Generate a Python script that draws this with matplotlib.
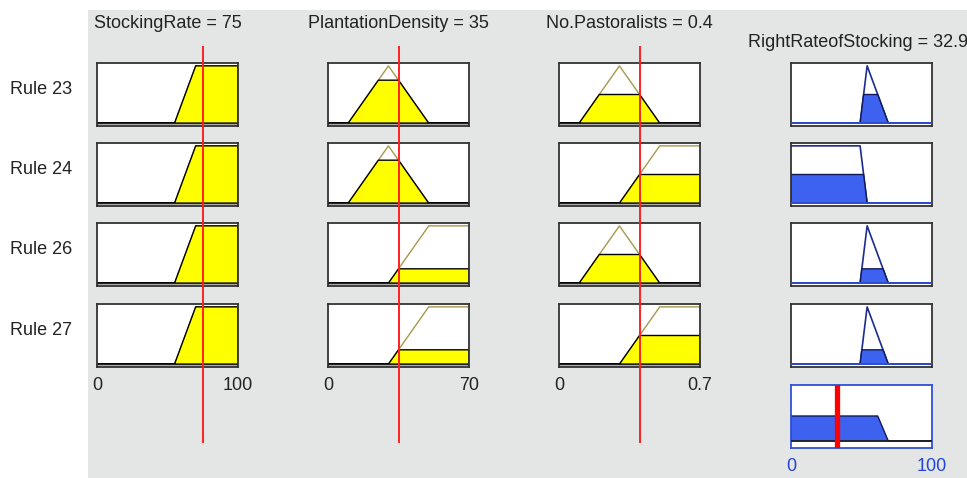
import numpy as np
import matplotlib
matplotlib.use('Agg')
import matplotlib.pyplot as plt
from matplotlib.patches import Rectangle

plt.rcParams['font.family'] = ['Liberation Sans', 'DejaVu Sans']

# fuzzy system: inputs, output and the fired rules
input_names = ['StockingRate', 'PlantationDensity', 'No.Pastoralists']
input_ranges = [(0, 100), (0, 70), (0, 0.7)]
input_values = [75, 35, 0.4]
input_tick_labels = [['0', '100'], ['0', '70'], ['0', '0.7']]

output_name = 'RightRateofStocking'
output_range = (0, 100)
output_value = 32.9
output_tick_labels = ['0', '100']

rule_labels = ['Rule 23', 'Rule 24', 'Rule 26', 'Rule 27']

# membership functions as trapezoids [a, b, c, d] (triangle when b == c)
stocking_mf = [[55, 70, 100, 100], [55, 70, 100, 100], [55, 70, 100, 100], [55, 70, 100, 100]]
density_mf = [[10, 30, 30, 50], [10, 30, 30, 50], [30, 50, 70, 70], [30, 50, 70, 70]]
pastoral_mf = [[0.1, 0.3, 0.3, 0.5], [0.3, 0.5, 0.7, 0.7], [0.1, 0.3, 0.3, 0.5], [0.3, 0.5, 0.7, 0.7]]
output_mf = [[49, 54, 54, 69], [0, 0, 49, 54], [49, 54, 54, 69], [49, 54, 54, 69]]

input_mfs = [stocking_mf, density_mf, pastoral_mf]


def trapmf(x, p):
    a, b, c, d = p
    with np.errstate(divide='ignore', invalid='ignore'):
        up = np.where(x >= b, 1.0, (x - a) / (b - a))
        down = np.where(x <= c, 1.0, (d - x) / (d - c))
    return np.clip(np.nan_to_num(np.minimum(up, down), nan=0.0, neginf=0.0), 0, 1)


W, H = 967, 478
fig = plt.figure(figsize=(W / 100, H / 100), dpi=100)
fig.patch.set_facecolor('white')

# grey panel behind the plots
fig.patches.append(Rectangle((88 / W, 0), 1 - 88 / W, 1 - 10 / H, transform=fig.transFigure,
                             facecolor='#e4e6e5', edgecolor='none', zorder=-5))

col_x = [97, 328, 559, 791]
row_top = [63, 143, 223, 304]
box_w, box_h = 141, 63
agg_top = 385

yellow = '#ffff00'
olive = '#a8984c'
navy = '#1c2c8c'
blue_fill = '#3d62f0'
blue_line = '#3050d8'
red = '#ff2020'
edge = '#333333'


def box(x, top, w=box_w, h=box_h):
    return fig.add_axes([x / W, 1 - (top + h) / H, w / W, h / H])


def style(ax, color=edge):
    ax.set_xticks([])
    ax.set_yticks([])
    for s in ax.spines.values():
        s.set_color(color)
        s.set_linewidth(1.3)


# firing strength of each rule (min of input memberships)
degrees = [[float(trapmf(np.array([input_values[j]]), input_mfs[j][i])[0]) for j in range(3)]
           for i in range(len(rule_labels))]
firing = [min(d) for d in degrees]

agg_x = np.linspace(output_range[0], output_range[1], 501)
aggregate = np.zeros_like(agg_x)

for i, label in enumerate(rule_labels):
    fig.text(10 / W, 1 - (row_top[i] + 31) / H, label, fontsize=13, va='baseline', color='#222222')

    # inputs
    for j in range(3):
        lo, hi = input_ranges[j]
        x = np.linspace(lo, hi, 501)
        mu = trapmf(x, input_mfs[j][i])
        clip = np.minimum(mu, degrees[i][j])
        ax = box(col_x[j], row_top[i])
        ax.set_facecolor('white')
        ax.plot(x, mu, color=olive, lw=1.0, zorder=1)
        ax.fill(np.r_[x, hi, lo], np.r_[clip, 0, 0], facecolor=yellow, edgecolor='black', lw=1.0, zorder=2)
        ax.axhspan(-0.05, 0, color='#cccccc', zorder=0)
        ax.axhline(0, color='#222222', lw=1.0, zorder=3)
        ax.set_xlim(lo, hi)
        ax.set_ylim(-0.05, 1.05)
        style(ax)
        if i == 0:
            ax.set_title('%s = %g' % (input_names[j], input_values[j]), fontsize=13,
                         color='#222222', pad=25)
        if i == len(rule_labels) - 1:
            ax.set_xticks([lo, hi])
            ax.set_xticklabels(input_tick_labels[j], fontsize=13, color='#222222')
            ax.tick_params(axis='x', length=0, pad=7)

    # output of the rule
    mu = trapmf(agg_x, output_mf[i])
    clip = np.minimum(mu, firing[i])
    aggregate = np.maximum(aggregate, clip)
    ax = box(col_x[3], row_top[i])
    ax.set_facecolor('white')
    ax.plot(agg_x, mu, color=navy, lw=1.2, zorder=1)
    ax.fill(np.r_[agg_x, output_range[1], output_range[0]], np.r_[clip, 0, 0],
            facecolor=blue_fill, edgecolor='#111a55', lw=1.0, zorder=2)
    ax.axhline(0, color=blue_line, lw=1.3, zorder=3)
    ax.set_xlim(*output_range)
    ax.set_ylim(-0.05, 1.05)
    style(ax)
    if i == 0:
        fig.text(748 / W, 1 - 47 / H, '%s = %g' % (output_name, output_value), fontsize=13,
                 color='#222222', va='baseline', ha='left')

# aggregated output with the defuzzified value
ax = box(col_x[3], agg_top)
ax.set_facecolor('white')
ax.fill(np.r_[agg_x, output_range[1], output_range[0]], np.r_[aggregate, 0, 0],
        facecolor=blue_fill, edgecolor='#111a55', lw=1.0, zorder=2)
ax.axhline(0, color='#222222', lw=1.2, zorder=3)
ax.axvline(output_value, color='#ff0000', lw=3.8, zorder=4)
ax.set_xlim(*output_range)
ax.set_ylim(-0.14, 1.12)
style(ax, blue_line)
ax.set_xticks(list(output_range))
ax.set_xticklabels(output_tick_labels, fontsize=13, color='#2244dd')
ax.tick_params(axis='x', length=0, pad=7)

# red lines marking the crisp input values
for j in range(3):
    lo, hi = input_ranges[j]
    ov = fig.add_axes([col_x[j] / W, 1 - 443 / H, box_w / W, (443 - 46) / H], zorder=10)
    ov.axvline(input_values[j], color=red, lw=1.4)
    ov.set_xlim(lo, hi)
    ov.axis('off')
    ov.patch.set_alpha(0)

fig.savefig('out.png', dpi=100)
